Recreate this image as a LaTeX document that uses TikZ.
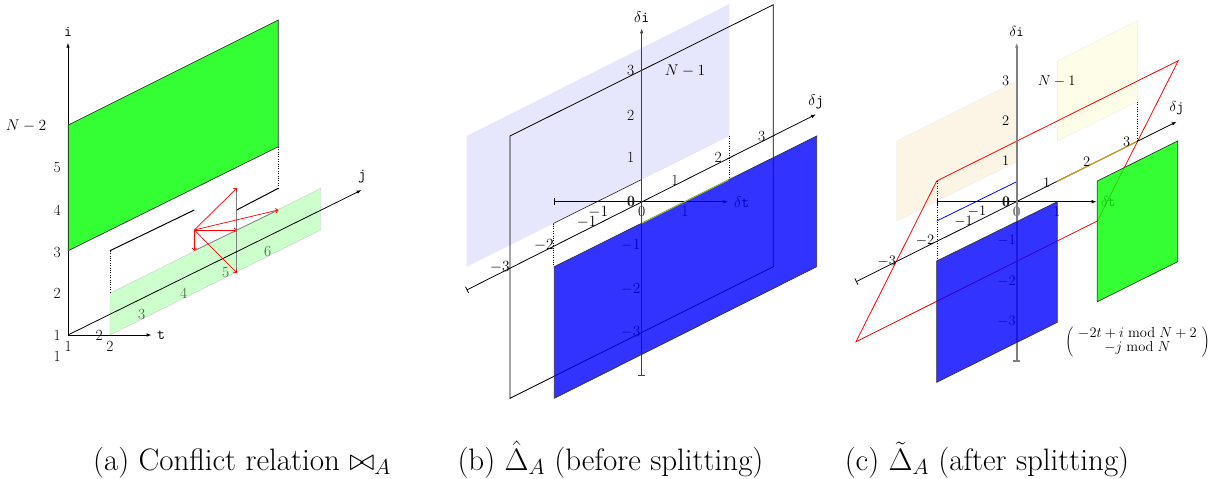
\RequirePackage{fix-cm}
\documentclass[tikz,border=0pt]{standalone}
\usetikzlibrary{arrows.meta}
\definecolor{labgreen}{RGB}{60,100,60}
\definecolor{ygreen}{RGB}{150,190,30}
\definecolor{gold}{RGB}{220,165,30}
\definecolor{beige}{RGB}{252,245,230}
\definecolor{paleyellow}{RGB}{254,254,232}
\definecolor{lavender}{RGB}{230,230,252}
\tikzset{
  lbl/.style={font=\fontsize{15.5}{15.5}\selectfont, inner sep=0pt},
  lblc/.style={font=\fontsize{14.5}{14.5}\selectfont, inner sep=0pt},
  captext/.style={font=\fontsize{31}{32}\selectfont, inner sep=0pt, anchor=base},
  axis/.style={line width=0.8pt, -{Latex[length=5pt,width=3.5pt]}},
  baxis/.style={line width=0.8pt, {Bar[width=7pt]}-{Latex[length=5pt,width=3.5pt]}},
  strong/.style={fill=#1, fill opacity=0.8, draw=black!80, line width=0.7pt},
  pale/.style={fill=#1, draw=black!8},
  redarrow/.style={red, line width=0.7pt, -{To[length=3pt,width=5pt]}},
}
\begin{document}
\begin{tikzpicture}[x=1pt,y=-1pt]
\useasboundingbox (0,0) rectangle (1219,479);

% ================= (a) =================
\coordinate (Oa) at (68,335);
\filldraw[fill=green, fill opacity=0.2, draw=black!20] (110,293.3) -- (320.7,188.3) -- (320.7,230) -- (110,335) -- cycle;
\draw[dotted] (110,250.7) -- (110,293.3);
\draw[dotted] (278.3,146.7) -- (278.3,188.3);
\draw[line width=1pt] (110,250.7) -- (194.3,210);
\draw[line width=1pt] (236.7,210) -- (278.3,188.3);
\draw[gray, line width=0.8pt] (194.3,250.7) -- (278.3,210);
\draw[gray, line width=0.8pt] (236.7,188.3) -- (236.7,272.7);
\coordinate (ta) at (151.7,335);
\coordinate (ia) at (68,42.7);
\coordinate (ja) at (361.7,190);
\draw[axis] (Oa) -- (ta);
\draw[axis] (Oa) -- (ia);
\draw[axis] (Oa) -- (ja);
\filldraw[strong=green] (68.3,125) -- (278.3,20) -- (278.3,146.7) -- (68.3,250.7) -- cycle;
\coordinate (ra) at (194.3,230);
\coordinate (r1) at (194.3,250.7);
\coordinate (r2) at (236.7,188.3);
\coordinate (r3) at (236.7,230);
\coordinate (r4) at (278.3,210);
\coordinate (r5) at (236.7,272.7);
\foreach \p in {r1,r2,r3,r4,r5} \draw[redarrow] (ra) -- (\p);
\node[lbl] (la-i) at (68,32) {\texttt{i}};
\node[lbl] (la-t) at (161,335) {\texttt{t}};
\node[lbl] (la-j) at (362,177) {\texttt{j}};
\node[lbl] (la-i1) at (57.3,335) {1};
\node[lbl] (la-i2) at (57.3,293.3) {2};
\node[lbl] (la-i3) at (57.3,252) {3};
\node[lbl] (la-i4) at (57.3,210) {4};
\node[lbl] (la-i5) at (57.3,168) {5};
\node[lbl] (la-iN) at (26,126) {$N-2$};
\node[lbl] (la-t1) at (68.3,346.7) {1};
\node[lbl] (la-t2) at (110,346.7) {2};
\node[lbl] (la-x2) at (99.3,335) {2};
\node[lbl] (la-x1) at (57.3,356) {1};
\node[lbl, labgreen] (la-j3) at (141.7,314) {3};
\node[lbl, labgreen] (la-j4) at (183.7,293.3) {4};
\node[lbl, labgreen] (la-j5) at (225.7,272.7) {5};
\node[lbl, labgreen] (la-j6) at (267.7,251.7) {6};

% ================= (b) =================
\coordinate (Ob) at (641.7,201.7);
\fill[lavender] (466.7,136) -- (729.3,4) -- (729.3,136) -- (466.7,266.7) -- cycle;
\draw[black!80, line width=0.7pt] (553.3,223.5) -- (641.7,179.5);
\draw[dotted] (553.3,223.5) -- (553.3,266.7);
\draw[dotted] (729.3,136) -- (729.3,180);
\draw[line width=0.8pt] (510,136) -- (773.3,4.7) -- (773.3,266.7) -- (510,398.3) -- cycle;
\coordinate (tb0) at (554.3,201.7);
\coordinate (tb1) at (728.3,201.7);
\coordinate (jb0) at (466.7,290);
\coordinate (jb1) at (816,114.3);
\coordinate (ib0) at (641.7,376);
\coordinate (ib1) at (641.7,28.3);
\draw[baxis] (tb0) -- (tb1);
\draw[baxis] (jb0) -- (jb1);
\draw[baxis, black!75, line width=1.1pt] (ib0) -- (ib1);
\node[lbl] (lb-i) at (641.7,17.3) {$\delta$\texttt{i}};
\node[lbl] (lb-j) at (816,101.7) {$\delta$\texttt{j}};
\node[lbl] (lb-t) at (741.7,201.7) {$\delta$\texttt{t}};
\node[lbl] (lb-N) at (685,71) {$N-1$};
\node[lbl] (lb-i3) at (630.7,71) {3};
\node[lbl] (lb-i2) at (630.7,115) {2};
\node[lbl] (lb-i1) at (630.7,157.3) {1};
\node[lbl] (lb-i0) at (630.7,201.7) {0};
\node[lbl] (lb-i0b) at (631.4,201.7) {0};
\node[lbl] (lb-im1) at (630.7,245) {$-1$};
\node[lbl] (lb-im2) at (630.7,288.7) {$-2$};
\node[lbl] (lb-im3) at (630.7,332.3) {$-3$};
\node[lbl] (lb-t0) at (641.7,211.7) {0};
\node[lbl] (lb-t1) at (685,211.7) {1};
\node[lbl] (lb-tm1) at (598.3,211.7) {$-1$};
\node[lbl] (lb-j1) at (675,180) {1};
\node[lbl] (lb-j2) at (718.3,157.3) {2};
\node[lbl] (lb-j3) at (761.7,136) {3};
\node[lbl] (lb-jm1) at (586.7,221.7) {$-1$};
\node[lbl] (lb-jm2) at (544,245) {$-2$};
\node[lbl] (lb-jm3) at (500,266.7) {$-3$};
\filldraw[strong=blue] (554.3,266.7) -- (816.7,136) -- (816.7,266.7) -- (554.3,398.3) -- cycle;
\draw[ygreen, line width=1pt] (641.7,223.3) -- (728.3,180);

% ================= (c) =================
\coordinate (Oc) at (1016.7,201.7);
\filldraw[pale=beige] (896.7,141) -- (1016.7,81) -- (1016.7,161.7) -- (896.7,221) -- cycle;
\filldraw[pale=paleyellow] (1057.3,61) -- (1137.3,20.7) -- (1137.3,101.7) -- (1057.3,141) -- cycle;
\draw[dotted] (936.7,181) -- (936.7,261);
\draw[dotted] (1137.3,101.7) -- (1137.3,141.7);
\draw[red, line width=0.8pt] (936.7,181) -- (1178.3,60.7) -- (1097.3,221) -- (856,341.7) -- cycle;
\draw[blue, line width=0.8pt] (936.7,221) -- (1016.7,181.7);
\coordinate (tc0) at (936.7,201.7);
\coordinate (tc1) at (1096.7,201.7);
\coordinate (jc0) at (856,281.7);
\coordinate (jc1) at (1176.7,121.7);
\coordinate (ic0) at (1016.7,361.7);
\coordinate (ic1) at (1016.7,42.7);
\draw[baxis] (tc0) -- (tc1);
\draw[baxis] (jc0) -- (jc1);
\node[lblc, gray] (lc-t0) at (1016.7,211.7) {\bfseries 0};
\draw[baxis, gray, line width=1.6pt] (ic0) -- (ic1);
\draw[gold, line width=1pt] (1056.7,181.7) -- (1136.7,141.7);
\node[lblc] (lc-i) at (1016.7,31.7) {$\delta$\texttt{i}};
\node[lblc] (lc-j) at (1176.7,108.3) {$\delta$\texttt{j}};
\node[lblc] (lc-t) at (1108.3,201.7) {$\delta$\texttt{t}};
\node[lblc] (lc-N) at (1056.7,81) {$N-1$};
\node[lblc] (lc-i3) at (1005.7,81) {3};
\node[lblc] (lc-i2) at (1005.7,121) {2};
\node[lblc] (lc-i1) at (1005.7,161) {1};
\node[lblc] (lc-i0) at (1005.7,201.7) {0};
\node[lblc] (lc-i0b) at (1006.4,201.7) {0};
\node[lblc] (lc-im1) at (1006.5,240.7) {$-1$};
\node[lblc] (lc-im2) at (1006.5,281) {$-2$};
\node[lblc] (lc-im3) at (1006.5,321.7) {$-3$};
\node[lblc] (lc-t1) at (1056.7,211.7) {1};
\node[lblc] (lc-tm1) at (977,211) {$-1$};
\node[lblc] (lc-j1) at (1046.7,182.7) {1};
\node[lblc] (lc-j2) at (1086.7,161.7) {2};
\node[lblc] (lc-j3) at (1126.7,141.7) {3};
\node[lblc] (lc-jm1) at (963.5,221) {$-1$};
\node[lblc] (lc-jm2) at (925,240) {$-2$};
\node[lblc] (lc-jm3) at (886.7,261.7) {$-3$};
\filldraw[strong=blue] (936.7,261) -- (1057.3,201.7) -- (1057.3,322.3) -- (936.7,382.3) -- cycle;
\filldraw[strong=green] (1097.3,181) -- (1177.7,141) -- (1177.7,261.7) -- (1097.3,301.7) -- cycle;
\node[lblc] (lc-map) at (1137.5,341.7) {$\left(\begin{array}{c} -2t+i \bmod N+2\\ -j \bmod N\end{array}\right)$};

% ================= captions =================
\node[captext] (capa) at (242,470) {(a) Conflict relation $\bowtie_A$};
\node[captext] (capb) at (610.5,470) {(b) $\hat{\Delta}_A$ (before splitting)};
\node[captext] (capc) at (987,470) {(c) $\tilde{\Delta}_A$ (after splitting)};
\end{tikzpicture}
\end{document}
